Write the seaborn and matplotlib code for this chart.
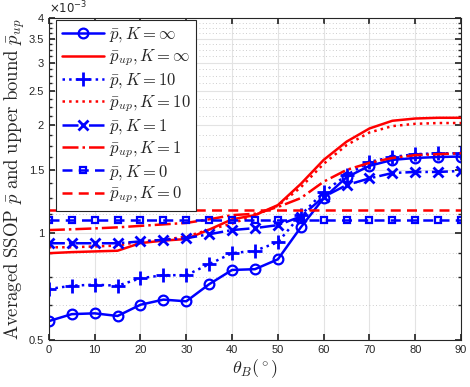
import matplotlib
matplotlib.use('Agg')
import matplotlib.pyplot as plt
import seaborn as sns
import numpy as np
from matplotlib.ticker import FixedLocator, NullFormatter

# Valores en unidades de 1e-3
theta = [0, 5, 10, 15, 20, 25, 30, 35, 40, 45, 50, 55, 60, 65, 70, 75, 80, 85, 90]
p_inf = [0.565, 0.591, 0.594, 0.584, 0.628, 0.649, 0.642, 0.717, 0.786, 0.79,
         0.842, 1.035, 1.25, 1.43, 1.54, 1.60, 1.62, 1.63, 1.635]
pup_inf = [0.876, 0.882, 0.886, 0.89, 0.935, 0.95, 0.96, 1.02, 1.09, 1.12,
           1.195, 1.37, 1.60, 1.80, 1.96, 2.06, 2.09, 2.10, 2.10]
p_10 = [0.695, 0.71, 0.715, 0.71, 0.745, 0.76, 0.76, 0.816, 0.876, 0.89,
        0.94, 1.12, 1.30, 1.45, 1.58, 1.63, 1.66, 1.67, 1.67]
pup_10 = [0.91, 0.91, 0.915, 0.92, 0.945, 0.955, 0.975, 1.02, 1.06, 1.12,
          1.19, 1.34, 1.56, 1.76, 1.91, 1.99, 2.02, 2.03, 2.03]
p_1 = [0.934, 0.934, 0.934, 0.934, 0.945, 0.955, 0.965, 0.99, 1.017, 1.03,
       1.05, 1.11, 1.26, 1.36, 1.42, 1.47, 1.48, 1.48, 1.49]
pup_1 = [1.017, 1.022, 1.028, 1.035, 1.045, 1.055, 1.065, 1.09, 1.12, 1.13,
         1.18, 1.25, 1.39, 1.50, 1.57, 1.62, 1.65, 1.66, 1.67]
p_0 = [1.085, 1.085, 1.085, 1.085, 1.085, 1.085, 1.085, 1.085, 1.085, 1.085,
       1.085, 1.085, 1.085, 1.085, 1.085, 1.085, 1.085, 1.085, 1.085]
pup_0 = [1.155, 1.155, 1.155, 1.155, 1.155, 1.155, 1.155, 1.155, 1.155, 1.155,
         1.155, 1.155, 1.155, 1.155, 1.155, 1.155, 1.155, 1.155, 1.155]

y_ticks = [0.5, 1, 1.5, 2, 2.5, 3, 3.5, 4]
y_tick_labels = ['0.5', '1', '1.5', '2', '2.5', '3', '3.5', '4']
x_ticks = [0, 10, 20, 30, 40, 50, 60, 70, 80, 90]

sns.set_theme(style='ticks')
plt.rcParams['font.family'] = ['Liberation Sans', 'DejaVu Sans']
plt.rcParams['mathtext.fontset'] = 'cm'

fig = plt.figure(figsize=(4.7, 3.87), dpi=100)
ax = fig.add_axes([0.104, 0.1214, 0.877, 0.8321])

blue = (0, 0, 1)
red = (1, 0, 0)
series = [
    (p_inf, blue, '-', 'o', r'$\bar{p}, K=\infty$'),
    (pup_inf, red, '-', None, r'$\bar{p}_{up}, K=\infty$'),
    (p_10, blue, ':', '+', r'$\bar{p}, K=10$'),
    (pup_10, red, ':', None, r'$\bar{p}_{up}, K=10$'),
    (p_1, blue, '-.', 'x', r'$\bar{p}, K=1$'),
    (pup_1, red, '-.', None, r'$\bar{p}_{up}, K=1$'),
    (p_0, blue, (0, (4, 2.5)), 's', r'$\bar{p}, K=0$'),
    (pup_0, red, (0, (4, 2.5)), None, r'$\bar{p}_{up}, K=0$'),
]
for vals, col, ls, mk, lab in series:
    kw = dict(color=col, linestyle=ls, linewidth=1.8, label=lab, ax=ax)
    if mk == '+':
        kw.update(marker='+', markersize=10, markeredgewidth=2)
    elif mk == 'x':
        kw.update(marker='x', markersize=7, markeredgewidth=2)
    elif mk == 'o':
        kw.update(marker='o', markersize=7, markerfacecolor='none',
                  markeredgewidth=1.6)
    elif mk == 's':
        kw.update(marker='s', markersize=5, markerfacecolor='none',
                  markeredgewidth=1.6)
    if mk is not None:
        kw.update(markeredgecolor=col)
    sns.lineplot(x=theta, y=vals, **kw)

ax.set_yscale('log')
ax.set_xlim(0, 90)
ax.set_ylim(0.5, 4)
ax.yaxis.set_major_locator(FixedLocator(y_ticks))
ax.set_yticklabels(y_tick_labels)
minor = [m / 8 for m in range(5, 33) if m % 4 != 0]
ax.yaxis.set_minor_locator(FixedLocator(minor))
ax.yaxis.set_minor_formatter(NullFormatter())
ax.set_xticks(x_ticks)

ax.grid(True, which='major', color='#e3e3e3', linewidth=0.8, linestyle='-')
ax.grid(True, which='minor', axis='y', color='#bdbdbd', linewidth=0.6, linestyle=(0, (1, 3)))
ax.set_axisbelow(True)

for s in ax.spines.values():
    s.set_color('#262626')
    s.set_linewidth(0.8)
ax.tick_params(which='both', direction='in', top=True, right=True, colors='#262626',
               labelsize=8, labelcolor='#262626')
ax.tick_params(which='major', length=4)
ax.tick_params(which='minor', length=2)

ax.set_xlabel(r'$\theta_B(^\circ)$', fontsize=13, labelpad=2)
ax.set_ylabel(r'$\mathrm{Averaged\ SSOP}\ \bar{p}\ \mathrm{and\ upper\ bound}\ \bar{p}_{up}$',
              fontsize=13.5, labelpad=1)
ax.text(0.0, 1.005, r'$\times10^{-3}$', transform=ax.transAxes, fontsize=8.5,
        color='#262626', ha='left', va='bottom', math_fontfamily='dejavusans')

leg = ax.legend(loc='upper left', bbox_to_anchor=(0.018, 0.995), borderaxespad=0,
                fontsize=12, handlelength=2.5, labelspacing=0.18, handletextpad=0.3,
                fancybox=False, framealpha=1, edgecolor='#262626', borderpad=0.35)
leg.get_frame().set_linewidth(0.8)

fig.savefig('out.png', dpi=100)
